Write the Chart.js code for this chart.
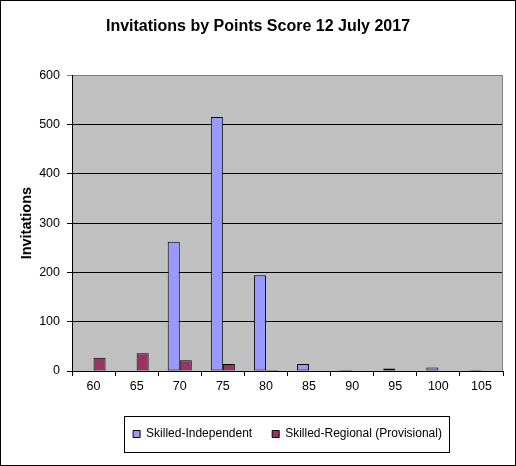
<!DOCTYPE html>
<html>
<head>
<meta charset="utf-8">
<script src="https://cdn.jsdelivr.net/npm/chart.js@4"></script>
<style>
  html, body { margin: 0; padding: 0; background: #fff; }
  #wrap { width: 516px; height: 466px; position: relative; }
</style>
</head>
<body>
<div id="wrap"><canvas id="c" width="516" height="466"></canvas></div>
<script>
const categories = ['60', '65', '70', '75', '80', '85', '90', '95', '100', '105'];
const skilledIndependent = [0, 0, 262, 515, 194, 14, 2, 5, 7, 2];
const skilledRegional = [27, 36, 22, 14, 2, 0, 0, 0, 0, 0];
const yTicks = [0, 100, 200, 300, 400, 500, 600];

const FONT = "'Liberation Sans', Arial, sans-serif";

const framePlugin = {
  id: 'frame',
  beforeDraw(chart) {
    const ctx = chart.ctx;
    const a = chart.chartArea;
    ctx.save();
    ctx.fillStyle = '#ffffff';
    ctx.fillRect(0, 0, chart.width, chart.height);
    ctx.fillStyle = '#c0c0c0';
    ctx.fillRect(a.left, a.top, a.right - a.left, a.bottom - a.top);
    ctx.restore();
  },
  beforeDatasetsDraw(chart) {
    const ctx = chart.ctx;
    const a = chart.chartArea;
    ctx.save();
    ctx.strokeStyle = '#808080';
    ctx.lineWidth = 1;
    ctx.beginPath();
    ctx.moveTo(Math.round(a.right) - 0.5, a.top);
    ctx.lineTo(Math.round(a.right) - 0.5, a.bottom);
    ctx.stroke();
    ctx.restore();
  },
  afterDraw(chart) {
    const ctx = chart.ctx;
    ctx.save();
    ctx.strokeStyle = '#000000';
    ctx.lineWidth = 1;
    ctx.strokeRect(0.5, 0.5, chart.width - 1, chart.height - 1);
    const boxes = chart.legend && chart.legend.legendHitBoxes;
    if (boxes && boxes.length) {
      const l = Math.min(...boxes.map(b => b.left));
      const r = Math.max(...boxes.map(b => b.left + b.width));
      const t = Math.min(...boxes.map(b => b.top));
      const bt = Math.max(...boxes.map(b => b.top + b.height));
      const cy = (t + bt) / 2;
      ctx.strokeRect(Math.round(l - 9) + 0.5, Math.round(cy - 18) + 0.5, Math.round(r - l + 16), 36);
    }
    ctx.restore();
  }
};

new Chart(document.getElementById('c'), {
  type: 'bar',
  data: {
    labels: categories,
    datasets: [
      {
        label: 'Skilled-Independent',
        data: skilledIndependent,
        backgroundColor: '#9999ff',
        borderColor: '#000000',
        borderWidth: 1,
        borderSkipped: false
      },
      {
        label: 'Skilled-Regional (Provisional)',
        data: skilledRegional,
        backgroundColor: '#993366',
        borderColor: '#000000',
        borderWidth: 1,
        borderSkipped: false
      }
    ]
  },
  options: {
    responsive: false,
    animation: false,
    devicePixelRatio: 1,
    layout: { padding: { left: 13, right: 13, top: 0, bottom: 16 } },
    datasets: {
      bar: { categoryPercentage: 0.558, barPercentage: 1.0 }
    },
    plugins: {
      title: {
        display: true,
        text: 'Invitations by Points Score 12 July 2017',
        color: '#000',
        font: { family: FONT, size: 16, weight: 'bold' },
        padding: { top: 17, bottom: 39 }
      },
      legend: {
        display: true,
        position: 'bottom',
        fullSize: false,
        labels: {
          color: '#000',
          font: { family: FONT, size: 12 },
          boxWidth: 7,
          boxHeight: 7,
          padding: 20
        }
      },
      tooltip: { enabled: false }
    },
    scales: {
      x: {
        grid: {
          offset: true,
          drawOnChartArea: false,
          drawTicks: true,
          tickLength: 5,
          color: '#000'
        },
        border: { display: true, color: '#000', width: 1 },
        ticks: {
          color: '#000',
          font: { family: FONT, size: 12.5 },
          padding: 3,
          maxRotation: 0
        },
        afterFit(s) { s.height = 37; }
      },
      y: {
        min: 0,
        max: 600,
        afterBuildTicks(s) { s.ticks = yTicks.map(v => ({ value: v })); },
        grid: {
          color: ctx => (ctx.tick && ctx.tick.value === 600 ? '#808080' : '#000'),
          drawTicks: true,
          tickLength: 5
        },
        border: { display: true, color: '#000', width: 1 },
        ticks: {
          color: '#000',
          font: { family: FONT, size: 12.5 },
          padding: 7
        },
        title: {
          display: true,
          text: 'Invitations',
          color: '#000',
          font: { family: FONT, size: 14.5, weight: 'bold' },
          padding: { top: 5, bottom: 0 }
        },
        afterFit(s) { s.width = 59; }
      }
    }
  },
  plugins: [framePlugin]
});
</script>
</body>
</html>
